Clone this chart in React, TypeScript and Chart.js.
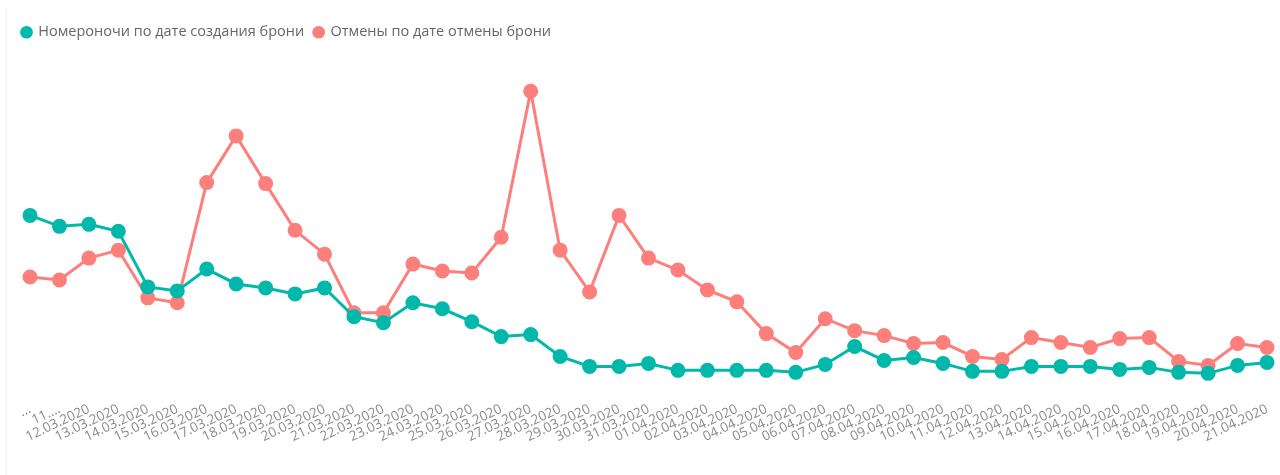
import React, { useEffect, useRef } from "react";
import { Chart, registerables } from "chart.js";

Chart.register(...registerables);

const categories = [
  "...", "11....", "12.03.2020", "13.03.2020", "14.03.2020", "15.03.2020", "16.03.2020",
  "17.03.2020", "18.03.2020", "19.03.2020", "20.03.2020", "21.03.2020", "22.03.2020",
  "23.03.2020", "24.03.2020", "25.03.2020", "26.03.2020", "27.03.2020", "28.03.2020",
  "29.03.2020", "30.03.2020", "31.03.2020", "01.04.2020", "02.04.2020", "03.04.2020",
  "04.04.2020", "05.04.2020", "06.04.2020", "07.04.2020", "08.04.2020", "09.04.2020",
  "10.04.2020", "11.04.2020", "12.04.2020", "13.04.2020", "14.04.2020", "15.04.2020",
  "16.04.2020", "17.04.2020", "18.04.2020", "19.04.2020", "20.04.2020", "21.04.2020",
];

const roomNights = [
  179, 168, 170, 163, 107, 103, 125, 110, 106, 100, 106, 77, 71, 91, 85, 72, 57, 59,
  37, 27, 27, 30, 23, 23, 23, 23, 21, 29, 47, 33, 36, 30, 22, 22, 27, 27, 27, 24, 26,
  21, 20, 28, 31,
];

const cancellations = [
  117, 114, 136, 144, 96, 91, 212, 259, 211, 164, 140, 81, 81, 130, 123, 121, 157, 304,
  144, 102, 179, 136, 124, 104, 92, 60, 41, 75, 63, 58, 50, 51, 37, 34, 56, 51, 46, 55,
  56, 32, 28, 50, 46,
];

const seriesNames = ["Номероночи по дате создания брони", "Отмены по дате отмены брони"];

export default function App() {
  const ref = useRef<HTMLCanvasElement | null>(null);

  useEffect(() => {
    document.body.style.margin = "0";
    if (!ref.current) return;
    const font = "'Open Sans', 'Noto Sans', sans-serif";
    const chart = new Chart(ref.current, {
      type: "line",
      data: {
        labels: categories,
        datasets: [
          {
            label: seriesNames[0],
            data: roomNights,
            borderColor: "#01B8AA",
            backgroundColor: "#01B8AA",
            borderWidth: 3,
            pointRadius: 6,
            pointHoverRadius: 6,
            tension: 0,
          },
          {
            label: seriesNames[1],
            data: cancellations,
            borderColor: "#FD7F7C",
            backgroundColor: "#FD7F7C",
            borderWidth: 3,
            pointRadius: 6,
            pointHoverRadius: 6,
            tension: 0,
          },
        ],
      },
      options: {
        animation: false,
        responsive: false,
        maintainAspectRatio: false,
        layout: { padding: { top: 15, left: 12, right: 13, bottom: 30 } },
        plugins: {
          tooltip: { enabled: false },
          legend: {
            position: "top",
            align: "start",
            labels: {
              usePointStyle: true,
              pointStyle: "circle",
              boxHeight: 9,
              boxWidth: 9,
              padding: 10,
              color: "#666666",
              font: { family: font, size: 14.5 },
              generateLabels: (c: any) =>
                Chart.defaults.plugins.legend.labels
                  .generateLabels(c)
                  .map((l: any) => ({ ...l, lineWidth: 0 })),
            },
          },
        },
        scales: {
          x: {
            offset: false,
            grid: { display: false },
            border: { display: false },
            ticks: {
              color: "#8a8a8a",
              font: { family: font, size: 13.5 },
              minRotation: 25,
              maxRotation: 25,
              autoSkip: false,
              padding: 0,
            },
          },
          y: {
            min: 0,
            max: 346,
            grid: { display: false },
            border: { display: false },
            ticks: { display: false },
            afterFit: (scale: any) => {
              scale.width = 18;
            },
          },
        },
      },
    });
    return () => chart.destroy();
  }, []);

  return (
    <div style={{ position: "relative", width: 1280, height: 475, background: "#fff" }}>
      <div
        style={{
          position: "absolute",
          left: 6,
          top: 8,
          width: 1,
          height: 467,
          background: "#eeeeee",
        }}
      />
      <canvas ref={ref} width={1280} height={475} style={{ display: "block" }} />
    </div>
  );
}
